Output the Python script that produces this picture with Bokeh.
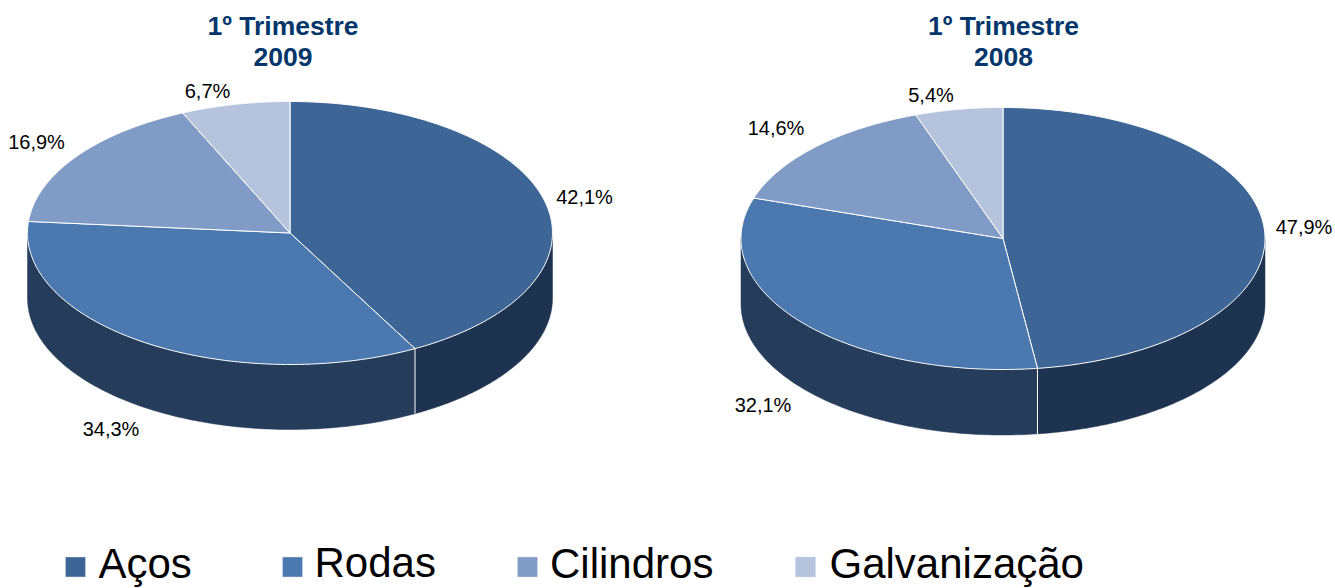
import numpy as np
from bokeh.plotting import figure
from bokeh.models import Range1d
from bokeh.core.properties import value
from bokeh.embed import file_html
from bokeh.resources import INLINE

# ---- data
categories = ["Aços", "Rodas", "Cilindros", "Galvanização"]
values_2009 = [42.1, 34.3, 16.9, 6.7]
values_2008 = [47.9, 32.1, 14.6, 5.4]
labels_2009 = ["42,1%", "34,3%", "16,9%", "6,7%"]
labels_2008 = ["47,9%", "32,1%", "14,6%", "5,4%"]
title_2009 = "1º Trimestre\n2009"
title_2008 = "1º Trimestre\n2008"

# ---- style / layout
top_colors = ["#3D6596", "#4A78AF", "#7F9BC6", "#B5C3DD"]
side_colors = ["#1E3350", "#253C5B", "#4A5F80", "#75829A"]
title_color = "#03366A"
FONT = value("Liberation Sans")

W, H = 1335, 588
p = figure(width=W, height=H, output_backend="svg", toolbar_location=None,
           x_range=Range1d(0, W), y_range=Range1d(H, 0),
           min_border=0, margin=0)
p.axis.visible = False
p.grid.visible = False
p.outline_line_color = None
p.background_fill_color = "white"
p.border_fill_color = "white"


def pie(values, labels, title, cx, cy, rx, ry, depth, title_x, title_ys, label_xy):
    total = sum(values)
    edges = np.cumsum([0.0] + list(values)) / total * 2 * np.pi
    ex = lambda t: cx + rx * np.sin(t)
    ey = lambda t: cy - ry * np.cos(t)
    # side wall: visible where the rim faces the viewer
    for i in range(len(values)):
        a = max(edges[i], np.pi / 2)
        b = min(edges[i + 1], 3 * np.pi / 2)
        if b > a:
            t = np.linspace(a, b, 120)
            xs = np.r_[ex(t), ex(t)[::-1]]
            ys = np.r_[ey(t), ey(t)[::-1] + depth]
            p.patch(xs, ys, fill_color=side_colors[i], line_color=side_colors[i], line_width=0.5)
    # white divider down the wall
    for e in edges[1:-1]:
        if np.pi / 2 < e < 3 * np.pi / 2:
            p.line([ex(e), ex(e)], [ey(e), ey(e) + depth], line_color="white", line_width=1)
    # top slices
    for i in range(len(values)):
        t = np.linspace(edges[i], edges[i + 1], 240)
        p.patch(np.r_[cx, ex(t)], np.r_[cy, ey(t)], fill_color=top_colors[i],
                line_color="white", line_width=1)
    for (lx, ly), s in zip(label_xy, labels):
        p.text([lx], [ly], text=[s], text_font=FONT, text_font_size="20px", text_color="#000000",
               text_align="center", text_baseline="middle")
    for line, ty in zip(title.split("\n"), title_ys):
        p.text([title_x], [ty], text=[line], text_font=FONT, text_font_size="26.5px",
               text_font_style="bold", text_color=title_color,
               text_align="center", text_baseline="middle")


pie(values_2009, labels_2009, title_2009, 289.5, 232.5, 262.5, 131.5, 65, 282.5, [25, 56],
    [(584, 196), (110.5, 428), (36, 141), (207, 90)])
pie(values_2008, labels_2008, title_2008, 1002.5, 238, 262, 131, 65.5, 1003, [25, 56],
    [(1303.5, 226), (762.5, 404), (775.5, 127), (930.5, 94)])

# ---- legend
swatch_x = [75, 292, 527, 805]
text_x = [98, 314, 549.5, 829]
text_mid = [563, 562, 563, 563]
p.scatter(swatch_x, [566.5] * 4, marker="square", size=20, fill_color=top_colors,
          line_color="#D5DDEB", line_width=0.5)
for x, y, s in zip(text_x, text_mid, categories):
    p.text([x], [y], text=[s], text_font=FONT, text_font_size="42px", text_color="#000000",
           text_align="left", text_baseline="middle")

open("out.html", "w").write(file_html(p, INLINE))
